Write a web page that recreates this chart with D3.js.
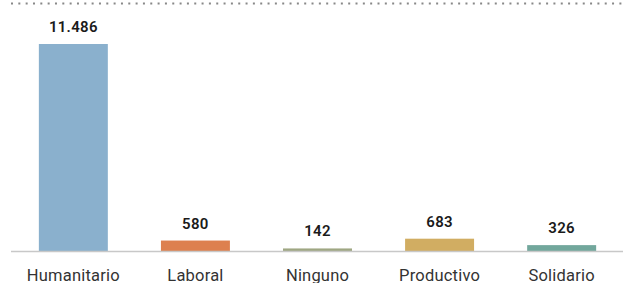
<!DOCTYPE html>
<html>
<head>
<meta charset="utf-8">
<script src="https://cdn.jsdelivr.net/npm/d3@7"></script>
<style>
    body { margin: 0; background: #fff; }
    svg { display: block; font-family: Roboto, 'Liberation Sans', sans-serif; }
</style>
</head>
<body>
<div class="canvas"></div>
<script>
// data
const categories = ['Humanitario', 'Laboral', 'Ninguno', 'Productivo', 'Solidario'];
const values = [11486, 580, 142, 683, 326];
const labels = ['11.486', '580', '142', '683', '326'];
const colors = ['#8ab0cd', '#dd804f', '#9fa783', '#d1ad62', '#72a79c'];

const width = 623;
const height = 283;

const svg = d3.select('.canvas')
    .append('svg')
    .attr('width', width)
    .attr('height', height);

const baseline = 251;
const barTop = 44;

const x = d3.scaleBand()
    .domain(categories)
    .range([12, 623])
    .paddingInner(0.435)
    .paddingOuter(0.22);

const y = d3.scaleLinear()
    .domain([0, d3.max(values)])
    .range([baseline, barTop]);

// dotted top rule
svg.append('line')
    .attr('x1', 11)
    .attr('x2', width)
    .attr('y1', 3.5)
    .attr('y2', 3.5)
    .attr('stroke', '#888')
    .attr('stroke-width', 2)
    .attr('stroke-dasharray', '2,5.33');

const data = categories.map((c, i) => ({ name: c, value: values[i], label: labels[i], color: colors[i] }));

// bars
svg.selectAll('rect.bar')
    .data(data)
    .enter()
    .append('rect')
    .attr('class', 'bar')
    .attr('x', d => x(d.name))
    .attr('width', x.bandwidth())
    .attr('y', d => y(d.value))
    .attr('height', d => baseline - y(d.value))
    .attr('fill', d => d.color);

// value labels
svg.selectAll('text.value')
    .data(data)
    .enter()
    .append('text')
    .attr('class', 'value')
    .attr('x', d => x(d.name) + x.bandwidth() / 2)
    .attr('y', d => y(d.value) - 12)
    .attr('text-anchor', 'middle')
    .attr('font-size', 15)
    .attr('font-weight', 600)
    .attr('letter-spacing', 0.3)
    .attr('fill', '#1a1a1a')
    .text(d => d.label);

// x axis
const xAxis = d3.axisBottom(x).tickSize(0).tickPadding(18);
const xAxisGroup = svg.append('g')
    .attr('transform', `translate(0, ${baseline})`)
    .call(xAxis);

xAxisGroup.select('.domain')
    .attr('d', `M11,0.5H${width}`)
    .attr('stroke', '#c8c8c8')
    .attr('stroke-width', 1.5);

xAxisGroup.selectAll('text')
    .attr('font-family', 'Roboto, sans-serif')
    .attr('font-size', 16.5)
    .attr('font-weight', 400)
    .attr('letter-spacing', 0.2)
    .attr('fill', '#333');
</script>
</body>
</html>
